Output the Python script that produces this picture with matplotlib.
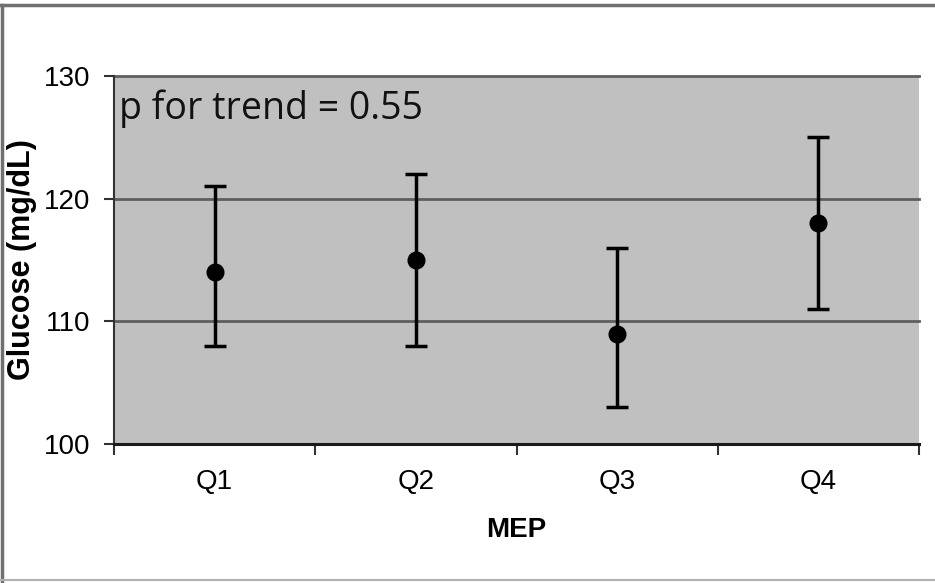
import matplotlib
matplotlib.use("Agg")
import matplotlib.pyplot as plt
from matplotlib.lines import Line2D

categories = ["Q1", "Q2", "Q3", "Q4"]
means = [114, 115, 109, 118]
upper = [121, 122, 116, 125]
lower = [108, 108, 103, 111]
yticks = [100, 110, 120, 130]
annotation = "p for trend = 0.55"

W, H = 935, 583
fig = plt.figure(figsize=(W/100, H/100), dpi=100)
ax = fig.add_axes([114/W, 1-444/H, 805/W, 368/H])
ax.set_facecolor("#c0c0c0")

x = list(range(1, len(categories)+1))
yerr = [[m - l for m, l in zip(means, lower)], [u - m for m, u in zip(means, upper)]]
ax.errorbar(x, means, yerr=yerr, fmt="o", color="black", ms=12, elinewidth=2.5,
            capsize=8, capthick=2.5, zorder=3)

ax.set_xlim(0.5, 4.5)
ax.set_ylim(100, 130)
ax.set_yticks(yticks)
ax.set_yticklabels([str(t) for t in yticks], fontsize=20, family="Liberation Sans")
for t in yticks[1:]:
    ax.axhline(t, color="#5e5e5e", lw=2, zorder=1, clip_on=False)

ax.set_xticks(x)
ax.set_xticklabels(categories, fontsize=20, family="Liberation Sans")
ax.tick_params(axis="x", which="major", length=0, pad=18)
ax.set_xticks([0.5, 1.5, 2.5, 3.5, 4.5], minor=True)
ax.tick_params(axis="x", which="minor", length=8, width=1.5, direction="out", color="#333333")
ax.tick_params(axis="y", length=7, width=1.5, direction="out", pad=10, color="#333333")

for s in ["top", "right"]:
    ax.spines[s].set_visible(False)
ax.spines["left"].set_linewidth(1.5)
ax.spines["left"].set_color("#333333")
ax.spines["bottom"].set_linewidth(2.2)
ax.spines["bottom"].set_color("#1a1a1a")

ax.set_xlabel("MEP", fontsize=20, fontweight="bold", family="Liberation Sans", labelpad=16)
ax.set_ylabel("Glucose (mg/dL)", fontsize=22, fontweight="bold", family="Liberation Sans", labelpad=5)

ax.text(0.525, 126.5, annotation, fontsize=27, family="Open Sans",
        va="baseline", ha="left", color="#111111")

# figure frame (top, left, bottom)
fig.add_artist(Line2D([0, 1], [1-5/H, 1-5/H], transform=fig.transFigure, color="#707070", lw=2.5))
fig.add_artist(Line2D([2/W, 2/W], [0, 1-5/H], transform=fig.transFigure, color="#707070", lw=2.5))
fig.add_artist(Line2D([0, 1], [3/H, 3/H], transform=fig.transFigure, color="#b0b0b0", lw=1.5))

fig.savefig("out.png", dpi=100)
